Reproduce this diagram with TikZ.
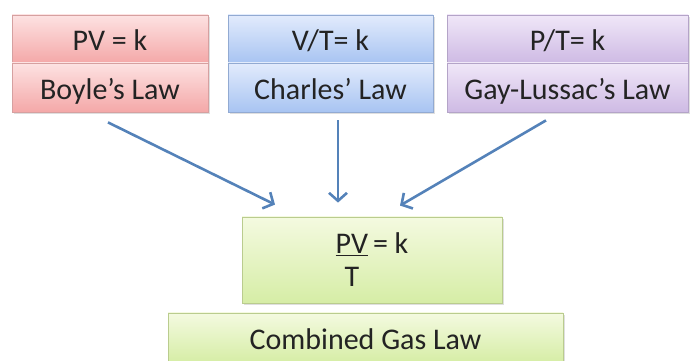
\documentclass[tikz,border=0pt]{standalone}
\usepackage{fontspec}
\setmainfont{Carlito}
\usepackage{calc}
\usetikzlibrary{arrows.meta,shadows}

\definecolor{txt}{RGB}{35,35,35}
\definecolor{arrowblue}{RGB}{84,130,185}
\definecolor{redtop}{RGB}{253,226,226}
\definecolor{redbot}{RGB}{244,168,168}
\definecolor{redline}{RGB}{214,160,160}
\definecolor{bluetop}{RGB}{226,235,252}
\definecolor{bluebot}{RGB}{168,196,242}
\definecolor{blueline}{RGB}{146,170,210}
\definecolor{purptop}{RGB}{240,231,248}
\definecolor{purpbot}{RGB}{206,186,228}
\definecolor{purpline}{RGB}{180,164,200}
\definecolor{greentop}{RGB}{244,250,224}
\definecolor{greenbot}{RGB}{214,237,166}
\definecolor{greenline}{RGB}{186,204,142}

\tikzset{
  lawbox/.style={draw, line width=0.8pt, inner sep=0pt, text=txt,
    font=\fontsize{30}{36}\selectfont, text height=25pt, text depth=1pt,
    drop shadow={opacity=0.25, shadow xshift=1.5pt, shadow yshift=-2pt}},
  redbox/.style={lawbox, top color=redtop, bottom color=redbot, draw=redline},
  bluebox/.style={lawbox, top color=bluetop, bottom color=bluebot, draw=blueline},
  purpbox/.style={lawbox, top color=purptop, bottom color=purpbot, draw=purpline},
  greenbox/.style={lawbox, top color=greentop, bottom color=greenbot, draw=greenline},
  link/.style={draw=arrowblue, line width=2.6pt,
    -{Straight Barb[length=8pt,width=18pt,line width=2.6pt]}}
}

\begin{document}
\begin{tikzpicture}[x=1pt,y=1pt]
    \useasboundingbox (0,0) rectangle (694,361);
    % the three laws
    \node[redbox, minimum width=196pt, minimum height=48pt] (boyleeq) at (110,322) {PV = k};
    \node[redbox, minimum width=196pt, minimum height=49pt] (boyle) at (110,273.5) {Boyle’s Law};
    \node[bluebox, minimum width=205pt, minimum height=48pt] (charleseq) at (330.5,322) {V/T= k};
    \node[bluebox, minimum width=205pt, minimum height=49pt] (charles) at (330.5,273.5) {Charles’ Law};
    \node[purpbox, minimum width=241pt, minimum height=48pt] (gayeq) at (567.5,322) {P/T= k};
    \node[purpbox, minimum width=241pt, minimum height=49pt] (gay) at (567.5,273.5) {Gay-Lussac’s Law};
    % combined law
    \node[greenbox, minimum width=260pt, minimum height=86pt, align=center, text height=, text depth=] (combinedeq) at (372,101)
      {\underline{PV}\,= k\\[-3pt]\makebox[\widthof{PV}]{T}\phantom{\,= k}};
    \node[greenbox, minimum width=395pt, minimum height=49pt] (combined) at (365.5,23.5) {Combined Gas Law};
    % arrows
    \draw[link] ([xshift=-2pt,yshift=-10pt]boyle.south) -- ([xshift=-97pt,yshift=12pt]combinedeq.north);
    \draw[link] ([xshift=7.5pt,yshift=-8pt]charles.south) -- ([xshift=-34pt,yshift=14pt]combinedeq.north);
    \draw[link] ([xshift=-21.5pt,yshift=-8pt]gay.south) -- ([xshift=28pt,yshift=11pt]combinedeq.north);
\end{tikzpicture}
\end{document}
